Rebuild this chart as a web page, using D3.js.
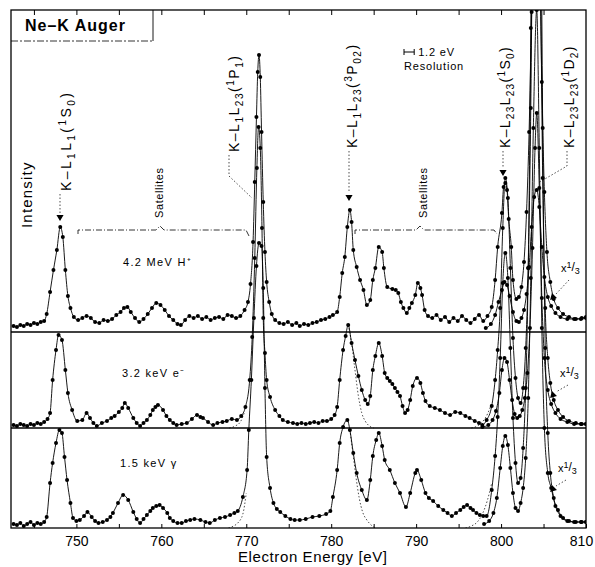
<!DOCTYPE html>
<html>
<head>
<meta charset="utf-8">
<script src="https://cdn.jsdelivr.net/npm/d3@7"></script>
<style>
  body { margin: 0; background: #fff; }
  svg { display: block; }
  text { font-family: "Liberation Sans", Arial, Helvetica, sans-serif; fill: #000; }
</style>
</head>
<body>
<div id="main"></div>
<script>
const width = 595, height = 567;
const frameL = 11, frameR = 586, frameT = 10, frameB = 528;
const bases = [332, 428, 528];   // zero line of each spectrum (H+, e-, gamma)

// ---- data: [energy eV, intensity (arb. units)] ----
const h1Main = [[742.6,6],[743.0,5],[743.4,7],[743.8,6],[744.2,8],[744.6,7],[745.0,9],[745.4,8],[745.8,10],[746.2,11],[746.5,18],[746.9,40],[747.3,62],[747.7,82],[748.1,105],[748.4,95],[748.7,62],[749.0,36],[749.3,24],[749.7,15],[750.2,12],[750.7,14],[751.2,16],[751.7,14],[752.2,10],[752.7,9],[753.2,12],[753.7,11],[754.2,13],[754.7,17],[755.2,20],[755.6,24],[756.0,25],[756.4,20],[756.9,14],[757.4,10],[757.9,13],[758.4,18],[758.9,24],[759.4,29],[759.9,27],[760.4,22],[760.9,16],[761.4,12],[761.9,8],[762.3,7],[762.8,12],[763.3,16],[763.8,14],[764.3,16],[764.8,13],[765.3,15],[765.8,12],[766.3,14],[766.8,15],[767.3,13],[767.8,17],[768.3,16],[768.8,14],[769.3,16],[769.8,22],[770.2,30],[770.5,48],[770.8,90],[771.0,150],[771.2,215],[771.35,260],[771.5,277],[771.65,255],[771.8,200],[772.0,130],[772.2,80],[772.4,50],[772.7,30],[773.0,18],[773.4,12],[773.9,9],[774.4,8],[774.9,10],[775.4,7],[775.9,9],[776.3,6],[776.8,8],[777.3,7],[777.8,9],[778.3,10],[778.8,12],[779.3,13],[779.8,15],[780.2,17],[780.7,20],[781.0,35],[781.3,59],[781.6,75],[781.9,105],[782.2,122],[782.4,110],[782.6,82],[783.0,65],[783.4,52],[783.8,42],[784.2,27],[784.6,32],[784.9,52],[785.2,64],[785.6,85],[786.0,80],[786.2,64],[786.6,45],[787.2,43],[787.6,42],[787.9,39],[788.2,30],[788.5,24],[788.9,19],[789.2,24],[789.5,29],[789.9,37],[790.2,49],[790.5,44],[790.7,37],[791.0,22],[791.4,16],[791.9,14],[792.4,17],[792.9,12],[793.4,15],[793.9,10],[794.4,14],[794.9,11],[795.4,16],[795.9,12],[796.4,9],[796.9,13],[797.4,17],[797.9,11],[798.4,16],[798.9,25],[799.3,52],[799.6,85],[800.1,119],[800.3,145],[800.5,149],[800.7,142],[800.9,113],[801.2,85],[801.4,52],[801.8,33],[802.1,35],[802.4,45],[802.7,70],[803.0,120],[803.3,200],[803.6,320],[803.9,450],[804.2,500],[804.5,400],[804.8,250],[805.1,140],[805.4,80],[805.8,50],[806.2,33],[806.7,24],[807.3,18],[808.0,15],[808.8,13],[809.5,14],[810.0,15]];
const h1Third = [[798.2,4],[798.8,8],[799.3,17],[799.7,30],[800.1,42],[800.4,50],[800.7,47],[801.0,36],[801.4,20],[801.8,11],[802.1,10],[802.4,14],[802.7,22],[803.0,38],[803.3,65],[803.6,105],[803.9,135],[804.2,142],[804.5,125],[804.8,85],[805.1,55],[805.5,35],[805.9,26],[806.4,19],[807.0,15],[807.8,13],[808.6,13],[809.4,13],[810.0,14]];

const e2Main = [[742.6,3],[743.0,2],[743.4,4],[743.8,3],[744.2,2],[744.6,4],[745.0,3],[745.4,5],[745.8,4],[746.2,6],[746.6,9],[746.9,15],[747.2,48],[747.6,78],[747.9,93],[748.3,88],[748.7,58],[749.0,35],[749.5,18],[750.1,7],[750.7,8],[751.2,15],[751.6,10],[752.0,5],[752.4,2],[753.0,5],[753.6,7],[754.1,10],[754.5,12],[755.0,16],[755.4,20],[755.7,25],[756.1,20],[756.7,10],[757.1,5],[757.5,2],[757.9,5],[758.3,8],[758.7,13],[759.0,18],[759.3,21],[759.6,23],[760.2,18],[760.6,12],[761.0,8],[761.4,5],[761.8,3],[762.4,4],[763.0,5],[763.6,9],[764.2,13],[764.6,11],[764.9,10],[765.5,6],[766.1,3],[766.6,5],[767.2,6],[767.7,7],[768.3,9],[768.9,8],[769.4,12],[769.9,21],[770.4,48],[770.7,91],[771.0,170],[771.25,260],[771.45,301],[771.65,280],[771.85,200],[772.0,110],[772.2,75],[772.4,48],[772.8,31],[773.4,18],[773.9,12],[774.3,8],[774.9,6],[775.5,5],[776.0,4],[776.5,5],[777.0,4],[777.5,5],[778.0,6],[778.5,5],[779.0,7],[779.5,7],[780.0,9],[780.4,13],[780.7,21],[781.0,48],[781.4,78],[781.7,92],[782.0,103],[782.4,85],[782.8,68],[783.2,52],[783.6,38],[784.0,28],[784.3,24],[784.6,32],[784.9,58],[785.2,72],[785.6,85],[786.0,72],[786.3,55],[786.6,50],[786.9,47],[787.2,44],[787.5,40],[787.8,36],[788.1,32],[788.4,22],[788.7,15],[789.0,18],[789.3,28],[789.6,42],[790.1,50],[790.5,45],[790.8,35],[791.1,27],[791.6,22],[792.2,20],[792.8,18],[793.4,15],[794.0,13],[794.6,16],[795.2,15],[795.8,12],[796.3,10],[796.9,7],[797.4,5],[797.8,3],[798.3,8],[798.9,22],[799.3,48],[799.6,78],[799.9,120],[800.2,200],[800.5,250],[800.8,230],[801.1,160],[801.4,90],[801.7,50],[802.0,30],[802.3,25],[802.6,40],[802.9,80],[803.2,160],[803.5,320],[803.8,600],[804.2,900],[804.6,500],[804.9,250],[805.2,120],[805.5,70],[805.8,45],[806.2,28],[806.7,18],[807.3,11],[808.0,7],[808.8,5],[809.5,4],[810.0,4]];
const e2Third = [[797.8,1],[798.5,3],[799.0,8],[799.4,17],[799.8,35],[800.1,58],[800.4,70],[800.7,66],[801.0,48],[801.3,28],[801.6,14],[801.9,10],[802.2,12],[802.5,18],[802.8,30],[803.1,55],[803.4,100],[803.7,180],[804.0,280],[804.2,315],[804.5,240],[804.8,130],[805.1,70],[805.5,38],[805.9,24],[806.4,15],[807.0,9],[807.8,6],[808.6,4],[809.4,4],[810.0,4]];

const g3Main = [[742.6,4],[743.0,3],[743.4,5],[743.8,2],[744.2,4],[744.6,6],[745.0,3],[745.4,5],[745.8,4],[746.2,6],[746.5,11],[746.9,45],[747.2,65],[747.6,85],[748.0,98],[748.3,95],[748.6,71],[748.9,48],[749.3,25],[749.6,10],[750.0,7],[750.4,8],[750.9,12],[751.3,16],[751.8,11],[752.2,7],[752.6,5],[753.1,6],[753.6,8],[754.0,11],[754.3,15],[754.9,25],[755.5,33],[756.1,28],[756.7,16],[757.1,9],[757.5,5],[757.9,9],[758.3,13],[758.7,17],[759.0,20],[759.4,22],[759.8,23],[760.2,20],[760.7,15],[761.0,10],[761.4,7],[761.9,5],[762.4,5],[762.9,7],[763.4,8],[763.9,9],[764.6,8],[765.2,6],[765.7,5],[766.3,8],[766.9,10],[767.5,11],[768.1,13],[768.6,15],[769.0,17],[769.6,31],[770.1,58],[770.3,98],[770.6,148],[770.9,210],[771.2,262],[771.5,285],[771.8,282],[772.0,240],[772.2,140],[772.4,71],[772.8,40],[773.2,25],[773.6,19],[774.0,16],[774.6,12],[775.2,9],[775.7,8],[776.3,8],[777.0,9],[777.8,11],[778.6,12],[779.4,14],[779.9,17],[780.2,31],[780.7,58],[781.0,85],[781.4,101],[781.9,108],[782.2,98],[782.6,75],[783.0,55],[783.6,38],[784.2,28],[784.6,48],[784.9,72],[785.3,88],[785.6,95],[786.0,82],[786.3,68],[786.9,58],[787.5,45],[788.1,35],[788.8,21],[789.3,35],[789.9,55],[790.1,58],[790.6,48],[791.1,35],[791.5,30],[792.0,27],[792.6,22],[793.2,18],[793.7,15],[794.2,12],[794.7,15],[795.2,18],[795.6,21],[796.0,23],[796.4,20],[796.7,18],[797.1,15],[797.5,13],[797.9,12],[798.3,12],[798.9,38],[799.3,72],[799.6,111],[799.9,170],[800.2,245],[800.5,275],[800.8,250],[801.1,180],[801.4,110],[801.7,65],[802.0,45],[802.3,50],[802.6,80],[802.9,140],[803.2,260],[803.5,500],[803.8,900],[804.2,1500],[804.6,800],[804.9,400],[805.2,180],[805.5,95],[805.8,55],[806.2,30],[806.7,18],[807.3,10],[808.0,7],[808.8,6],[809.5,6],[810.0,6]];
const g3Third = [[798.0,4],[798.6,7],[799.1,15],[799.5,30],[799.9,60],[800.2,82],[800.5,92],[800.8,83],[801.1,60],[801.4,35],[801.7,20],[802.0,17],[802.3,25],[802.6,40],[802.9,70],[803.2,130],[803.5,250],[803.8,400],[804.2,518],[804.5,380],[804.8,200],[805.1,100],[805.5,55],[805.9,40],[806.4,22],[807.0,12],[807.8,7],[808.6,6],[809.4,6],[810.0,6]];

// fitted single-line components (dotted)
const e2Comp3P = [[782.0,103],[782.4,85],[782.8,58],[783.2,32],[783.6,15],[784.0,7],[784.5,2],[785.0,0]];
const e2Comp1P = [[768.0,0],[768.7,2],[769.3,6],[769.8,16]];
const e2Comp1S = [[796.5,0],[797.2,2],[797.8,6],[798.4,14],[798.9,25]];
const g3Comp3P = [[782.2,98],[782.6,72],[782.9,52],[783.3,30],[783.7,16],[784.2,8],[784.7,3],[785.2,0]];
const g3Comp1P = [[767.9,0],[768.5,2],[769.0,5],[769.6,14],[770.0,35]];
const g3Comp1S = [[795.8,0],[796.5,2],[797.2,6],[797.8,14],[798.4,28],[798.9,45]];

const tickValues = [750, 760, 770, 780, 790, 800, 810];
const sourceLabels = ["4.2 MeV H\u207A", "3.2 keV e\u207B", "1.5 keV \u03B3"];

// ---- scales ----
const x = d3.scaleLinear().domain([742.3, 810]).range([frameL, frameR]);
const yFor = i => d3.scaleLinear().domain([0, 100]).range([bases[i], bases[i] - 100]);

const svg = d3.select("#main").append("svg")
    .attr("width", width).attr("height", height);

svg.append("defs").append("clipPath").attr("id", "frame")
    .append("rect").attr("x", frameL).attr("y", frameT)
    .attr("width", frameR - frameL).attr("height", frameB - frameT);

// frame + zero lines
svg.append("rect")
    .attr("x", frameL).attr("y", frameT)
    .attr("width", frameR - frameL).attr("height", frameB - frameT)
    .attr("fill", "none").attr("stroke", "#000").attr("stroke-width", 1.3);

svg.selectAll("line.zero")
    .data(bases.slice(0, 2))
    .join("line")
    .attr("class", "zero")
    .attr("x1", frameL).attr("x2", frameR)
    .attr("y1", d => d).attr("y2", d => d)
    .attr("stroke", "#000").attr("stroke-width", 1.4);

// axes
const minor = d3.range(745, 810, 5);
svg.append("g")
    .attr("transform", `translate(0,${frameB})`)
    .call(d3.axisBottom(x).tickValues(minor.concat([810]))
        .tickSizeInner(-4).tickSizeOuter(0).tickPadding(8)
        .tickFormat(d => tickValues.includes(d) ? d : ""))
    .call(g => g.select(".domain").remove())
    .call(g => g.selectAll("line").attr("stroke-width", 1))
    .call(g => g.selectAll("text").style("font-size", "14px")
        .style("font-family", "'Liberation Sans', Arial, sans-serif")
        .attr("dx", d => d === 810 ? -5 : 0));

svg.append("g")
    .attr("transform", `translate(0,${frameT})`)
    .call(d3.axisTop(x).tickValues(minor).tickSizeInner(-5).tickSizeOuter(0).tickFormat(""))
    .call(g => g.select(".domain").remove())
    .call(g => g.selectAll("line").attr("stroke-width", 1));

// spectra
const plot = svg.append("g").attr("clip-path", "url(#frame)");

const spectra = [
  {data: h1Main, p: 0}, {data: h1Third, p: 0},
  {data: e2Main, p: 1}, {data: e2Third, p: 1},
  {data: g3Main, p: 2}, {data: g3Third, p: 2}
];
const comps = [
  {data: e2Comp3P, p: 1}, {data: e2Comp1P, p: 1}, {data: e2Comp1S, p: 1},
  {data: g3Comp3P, p: 2}, {data: g3Comp1P, p: 2}, {data: g3Comp1S, p: 2}
];

comps.forEach(s => {
  const y = yFor(s.p);
  plot.append("path")
      .datum(s.data)
      .attr("fill", "none").attr("stroke", "#000")
      .attr("stroke-width", 0.7).attr("stroke-dasharray", "1.5,2")
      .attr("d", d3.line().x(d => x(d[0])).y(d => y(d[1])).curve(d3.curveMonotoneX));
});

spectra.forEach(s => {
  const y = yFor(s.p);
  plot.append("path")
      .datum(s.data)
      .attr("fill", "none").attr("stroke", "#000").attr("stroke-width", 0.9)
      .attr("d", d3.line().x(d => x(d[0])).y(d => y(d[1])).curve(d3.curveMonotoneX));
  plot.append("g").selectAll("circle")
      .data(s.data)
      .join("circle")
      .attr("cx", d => x(d[0])).attr("cy", d => y(d[1]))
      .attr("r", 2).attr("fill", "#000");
});

// ---- labels ----
function richText(sel, parts) {
  let cur = 0;
  parts.forEach(([s, off]) => {
    const target = off === 1 ? -5 : off === -1 ? 4 : 0;
    sel.append("tspan").text(s)
        .attr("dy", target - cur)
        .style("font-size", off === 0 ? null : "0.72em");
    cur = target;
  });
}

function rotLabel(xp, yp, parts, size, ls) {
  const t = svg.append("text")
      .attr("transform", `translate(${xp},${yp}) rotate(-90)`)
      .style("font-size", size + "px")
      .style("letter-spacing", ls + "px");
  richText(t, parts);
  return t;
}

rotLabel(71, 191, [["K\u2013L",0],["1",-1],["L",0],["1",-1],["(",0],["1",1],["S",0],["0",-1],[")",0]], 14, 2.4);
rotLabel(239, 152, [["K\u2013L",0],["1",-1],["L",0],["23",-1],["(",0],["1",1],["P",0],["1",-1],[")",0]], 14, 1.5);
rotLabel(357, 148, [["K\u2013L",0],["1",-1],["L",0],["23",-1],["(",0],["3",1],["P",0],["02",-1],[")",0]], 14, 1.5);
rotLabel(510, 148, [["K\u2013L",0],["23",-1],["L",0],["23",-1],["(",0],["1",1],["S",0],["0",-1],[")",0]], 14, 1.3);
rotLabel(574, 148, [["K\u2013L",0],["23",-1],["L",0],["23",-1],["(",0],["1",1],["D",0],["2",-1],[")",0]], 14, 1.3);
rotLabel(32, 228, [["Intensity",0]], 15, 1.2);
rotLabel(163, 218, [["Satellites",0]], 11, 0.6);
rotLabel(427, 218, [["Satellites",0]], 11, 0.6);

// leaders to the peaks
const dotted = (pts) => svg.append("path")
    .attr("d", d3.line()(pts))
    .attr("fill", "none").attr("stroke", "#000")
    .attr("stroke-width", 0.7).attr("stroke-dasharray", "1.5,2");
dotted([[60, 194], [60, 213]]);
dotted([[229, 155], [229, 176], [252, 198]]);
dotted([[349, 151], [349, 193]]);
dotted([[503, 151], [503, 168]]);
dotted([[567, 151], [567, 166], [538, 183]]);

const tri = d3.symbol().type(d3.symbolTriangle).size(22);
[[60, 217], [349, 197], [503, 172]].forEach(([a, b]) =>
  svg.append("path").attr("d", tri())
      .attr("transform", `translate(${a},${b}) rotate(180)`).attr("fill", "#000"));

// satellite brackets
const bracket = (pts) => svg.append("path")
    .attr("d", d3.line()(pts))
    .attr("fill", "none").attr("stroke", "#000")
    .attr("stroke-width", 0.8).attr("stroke-dasharray", "6,2,1,2");
bracket([[78, 234], [78, 230], [156, 230], [160, 226], [164, 230], [246, 230], [249, 236]]);
bracket([[355, 234], [355, 230], [416, 230], [420, 226], [424, 230], [494, 230], [497, 234]]);

// title box: solid right edge, broken lower edge
svg.append("path")
    .attr("d", `M153,41V${frameT}`)
    .attr("fill", "none").attr("stroke", "#000").attr("stroke-width", 0.9);
svg.append("path")
    .attr("d", `M${frameL},41H153`)
    .attr("fill", "none").attr("stroke", "#000").attr("stroke-width", 0.8)
    .attr("stroke-dasharray", "7,2,2,2");
svg.append("text").attr("x", 25).attr("y", 31)
    .style("font-size", "16px").style("font-weight", "bold").style("letter-spacing", "1px")
    .text("Ne\u2013K Auger");

// resolution bar: 1.2 eV wide
const rx0 = 404, rw = x(742.3 + 1.2) - x(742.3);
svg.append("path")
    .attr("d", `M${rx0},49V55M${rx0},52H${rx0 + rw}M${rx0 + rw},49V55`)
    .attr("stroke", "#000").attr("stroke-width", 1).attr("fill", "none");
svg.append("text").attr("x", rx0 + rw + 4).attr("y", 56)
    .style("font-size", "11px").style("letter-spacing", "0.8px").text("1.2 eV");
svg.append("text").attr("x", 404).attr("y", 70)
    .style("font-size", "11px").style("letter-spacing", "0.8px").text("Resolution");

// excitation source labels
svg.selectAll("text.src")
    .data(sourceLabels)
    .join("text")
    .attr("class", "src")
    .attr("x", (d, i) => [123, 122, 120][i])
    .attr("y", (d, i) => [266, 377, 467][i])
    .style("font-size", "11px").style("letter-spacing", "1.3px")
    .text(d => d);

// x 1/3 markers
const thirds = [[561, 272, 553, 297], [560, 377, 553, 395], [558, 472, 553, 489]];
thirds.forEach(([tx, ty, ax, ay]) => {
  const t = svg.append("text").attr("x", tx).attr("y", ty).style("font-size", "11px");
  t.append("tspan").text("x");
  t.append("tspan").text("1").attr("dy", -4).style("font-size", "9px");
  t.append("tspan").text("/").attr("dy", 3).style("font-size", "12px");
  t.append("tspan").text("3").attr("dy", 3).style("font-size", "9px");
  dotted([[tx + 8, ty + 8], [ax + 3, ay - 3]]);
  svg.append("path").attr("d", tri())
      .attr("transform", `translate(${ax},${ay}) rotate(${-135})`).attr("fill", "#000");
});

// axis title
svg.append("text").attr("x", 238).attr("y", 562)
    .style("font-size", "15px").style("letter-spacing", "0.6px")
    .text("Electron Energy  [eV]");
</script>
</body>
</html>
